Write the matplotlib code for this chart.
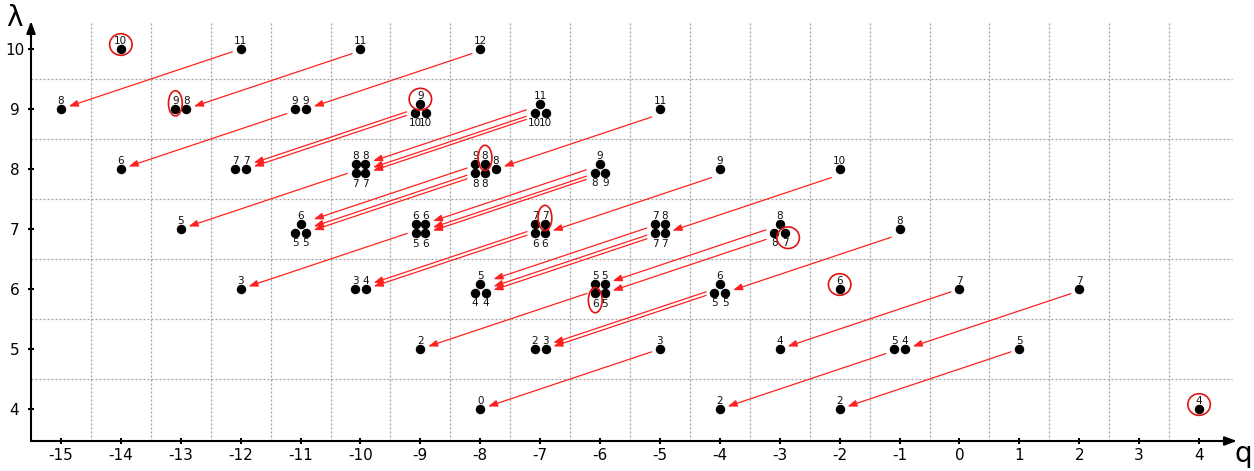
import matplotlib
matplotlib.use('Agg')
import matplotlib.pyplot as plt
from matplotlib.patches import Ellipse
import numpy as np

# Clusters of classes: position (q, lambda) and the label of each dot
CLUSTER_Q = [-14, -12, -10, -8,
             -15, -13, -11, -9, -7, -5,
             -14, -12, -10, -8, -6, -4, -2,
             -13, -11, -9, -7, -5, -3, -1,
             -12, -10, -8, -6, -4, -2, 0, 2,
             -9, -7, -5, -3, -1, 1,
             -8, -4, -2, 4]
CLUSTER_L = [10, 10, 10, 10,
             9, 9, 9, 9, 9, 9,
             8, 8, 8, 8, 8, 8, 8,
             7, 7, 7, 7, 7, 7, 7,
             6, 6, 6, 6, 6, 6, 6, 6,
             5, 5, 5, 5, 5, 5,
             4, 4, 4, 4]
CLUSTER_LABELS = [['10'], ['11'], ['11'], ['12'],
                  ['8'], ['9', '8'], ['9', '9'], ['9', '10', '10'], ['11', '10', '10'], ['11'],
                  ['6'], ['7', '7'], ['8', '8', '7', '7'], ['9', '8', '8', '8', '8'],
                  ['9', '8', '9'], ['9'], ['10'],
                  ['5'], ['6', '5', '5'], ['6', '6', '5', '6'], ['7', '7', '6', '6'],
                  ['7', '8', '7', '7'], ['8', '8', '7'], ['8'],
                  ['3'], ['3', '4'], ['5', '4', '4'], ['5', '5', '6', '5'], ['6', '5', '5'],
                  ['6'], ['7'], ['7'],
                  ['2'], ['2', '3'], ['3'], ['4'], ['5', '4'], ['5'],
                  ['0'], ['2'], ['2'], ['4']]

# Differentials: (q, lambda, dot index) of source and of target
ARROW_SRC = [(-12, 10, 0), (-10, 10, 0), (-8, 10, 0),
             (-11, 9, 0), (-9, 9, 1), (-9, 9, 2), (-7, 9, 0), (-7, 9, 1), (-7, 9, 2), (-5, 9, 0),
             (-10, 8, 0), (-8, 8, 0), (-8, 8, 2), (-8, 8, 3), (-6, 8, 0), (-6, 8, 1), (-6, 8, 2),
             (-4, 8, 0), (-2, 8, 0),
             (-9, 7, 0), (-7, 7, 0), (-7, 7, 2), (-5, 7, 1), (-5, 7, 0), (-5, 7, 2),
             (-3, 7, 0), (-3, 7, 1), (-1, 7, 0),
             (-6, 6, 0), (-4, 6, 0), (-4, 6, 1), (0, 6, 0), (2, 6, 0),
             (-5, 5, 0), (-1, 5, 0), (1, 5, 0)]
ARROW_DST = [(-15, 9, 0), (-13, 9, 1), (-11, 9, 1),
             (-14, 8, 0), (-12, 8, 0), (-12, 8, 1), (-10, 8, 1), (-10, 8, 2), (-10, 8, 3), (-8, 8, 4),
             (-13, 7, 0), (-11, 7, 0), (-11, 7, 1), (-11, 7, 2), (-9, 7, 1), (-9, 7, 2), (-9, 7, 3),
             (-7, 7, 3), (-5, 7, 3),
             (-12, 6, 0), (-10, 6, 1), (-10, 6, 0), (-8, 6, 0), (-8, 6, 1), (-8, 6, 2),
             (-6, 6, 1), (-6, 6, 3), (-4, 6, 2),
             (-9, 5, 0), (-7, 5, 1), (-7, 5, 0), (-3, 5, 0), (-1, 5, 1),
             (-8, 4, 0), (-4, 4, 0), (-2, 4, 0)]

# Surviving classes, circled in red
CIRCLED = [(-14, 10, 0), (-13, 9, 0), (-9, 9, 0), (-8, 8, 1), (-7, 7, 1),
           (-3, 7, 2), (-6, 6, 2), (-2, 6, 0), (4, 4, 0)]

X_TICKS = list(range(-15, 5))
Y_TICKS = list(range(4, 11))

# dot offsets inside a cluster (dq, dlambda, label side)
LAYOUT = {
    1: [(0.0, 0.0, 'up')],
    2: [(-0.09, 0.0, 'up'), (0.09, 0.0, 'up')],
    3: [(0.0, 0.09, 'up'), (-0.09, -0.06, 'down'), (0.09, -0.06, 'down')],
    4: [(-0.08, 0.09, 'up'), (0.08, 0.09, 'up'), (-0.08, -0.07, 'down'), (0.08, -0.07, 'down')],
    5: [(-0.08, 0.09, 'up'), (0.08, 0.09, 'up'), (-0.08, -0.07, 'down'), (0.08, -0.07, 'down'),
        (0.26, 0.0, 'up')],
}

ARROW_RED = '#ff2020'
CIRCLE_RED = '#dd1414'

clusters = {}
for q, l, labels in zip(CLUSTER_Q, CLUSTER_L, CLUSTER_LABELS):
    clusters[(q, l)] = labels


def dot_pos(q, l, i):
    dq, dl, side = LAYOUT[len(clusters[(q, l)])][i]
    return q + dq, l + dl, side


def cluster_extent(q, l):
    offs = [o[0] for o in LAYOUT[len(clusters[(q, l)])]]
    return q + min(offs), q + max(offs)


fig = plt.figure(figsize=(12.54, 4.71), dpi=100)
fig.patch.set_facecolor('white')
ax = fig.add_axes([31 / 1254, 30 / 471, 1206 / 1254, 420 / 471])
ax.set_xlim(-15.5, 4.633)
ax.set_ylim(3.467, 10.467)

# grid at half-integers, dotted
for gx in np.arange(-14.5, 4.0, 1.0):
    ax.plot([gx, gx], [3.467, 10.45], color='#a2a2a2', lw=0.9,
            linestyle=(0, (1.6, 1.6)), zorder=0)
for gy in np.arange(4.5, 10.0, 1.0):
    ax.plot([-15.5, 4.55], [gy, gy], color='#a2a2a2', lw=0.9,
            linestyle=(0, (1.6, 1.6)), zorder=0)

# dots and labels
for (q, l), labels in clusters.items():
    for i, txt in enumerate(labels):
        x, y, side = dot_pos(q, l, i)
        ax.plot(x, y, 'o', color='black', markersize=5.8, zorder=4)
        dy = 3.6 if side == 'up' else -9.9
        ax.annotate(txt, (x, y), xytext=(0, dy), textcoords='offset points',
                    ha='center', va='baseline', fontsize=7.5, color='#111111', zorder=5)

# differentials: parallel lines running through the target dot
for src, dst in zip(ARROW_SRC, ARROW_DST):
    tx, ty, _ = dot_pos(*dst)
    slope = (dst[1] - src[1]) / (dst[0] - src[0])
    x0 = cluster_extent(src[0], src[1])[0] - 0.14
    x1 = cluster_extent(dst[0], dst[1])[1] + 0.13
    y0 = ty + (x0 - tx) * slope
    y1 = ty + (x1 - tx) * slope
    ax.annotate('', xy=(x1, y1), xytext=(x0, y0),
                arrowprops=dict(arrowstyle='-|>,head_length=0.55,head_width=0.2',
                                color=ARROW_RED, lw=0.9, shrinkA=0, shrinkB=0,
                                mutation_scale=10), zorder=3)

# circles round surviving classes
for q, l, i in CIRCLED:
    x, y, side = dot_pos(q, l, i)
    n = len(clusters[(q, l)])
    if n in (1, 3):
        w, h = 0.375, 0.36
        cy = y + (0.075 if side == 'up' else -0.085)
        cx = x + (0.0 if side == 'up' else 0.05)
    else:
        w, h = 0.23, 0.42
        cy = y + (0.095 if side == 'up' else -0.115)
        cx = x
    ax.add_patch(Ellipse((cx, cy), w, h, fill=False, edgecolor=CIRCLE_RED,
                         lw=1.2, zorder=5))

# axes with arrows
for s in ax.spines.values():
    s.set_visible(False)
ax.annotate('', xy=(1, 0), xytext=(0, 0), xycoords='axes fraction',
            arrowprops=dict(arrowstyle='-|>,head_length=0.6,head_width=0.22',
                            color='black', lw=1.5, shrinkA=0, shrinkB=0,
                            mutation_scale=12), annotation_clip=False)
ax.annotate('', xy=(0, 1), xytext=(0, 0), xycoords='axes fraction',
            arrowprops=dict(arrowstyle='-|>,head_length=0.6,head_width=0.22',
                            color='black', lw=1.5, shrinkA=0, shrinkB=0,
                            mutation_scale=12), annotation_clip=False)

ax.set_xticks(X_TICKS)
ax.set_xticklabels([str(v) for v in X_TICKS])
ax.set_yticks(Y_TICKS)
ax.set_yticklabels([str(v) for v in Y_TICKS])
ax.tick_params(axis='x', direction='inout', length=4.5, width=1.5, pad=2.8, labelsize=11)
ax.tick_params(axis='y', direction='inout', length=4.5, width=1.5, pad=9.6, labelsize=11)
for lab in ax.get_yticklabels():
    lab.set_horizontalalignment('center')

fig.text(14.5 / 1254, 1 - 26 / 471, 'λ', fontsize=20, ha='center', va='baseline')
fig.text(1243 / 1254, 1 - 462 / 471, 'q', fontsize=20, ha='center', va='baseline')

fig.savefig('out.png', dpi=100, facecolor='white')
plt.close(fig)
